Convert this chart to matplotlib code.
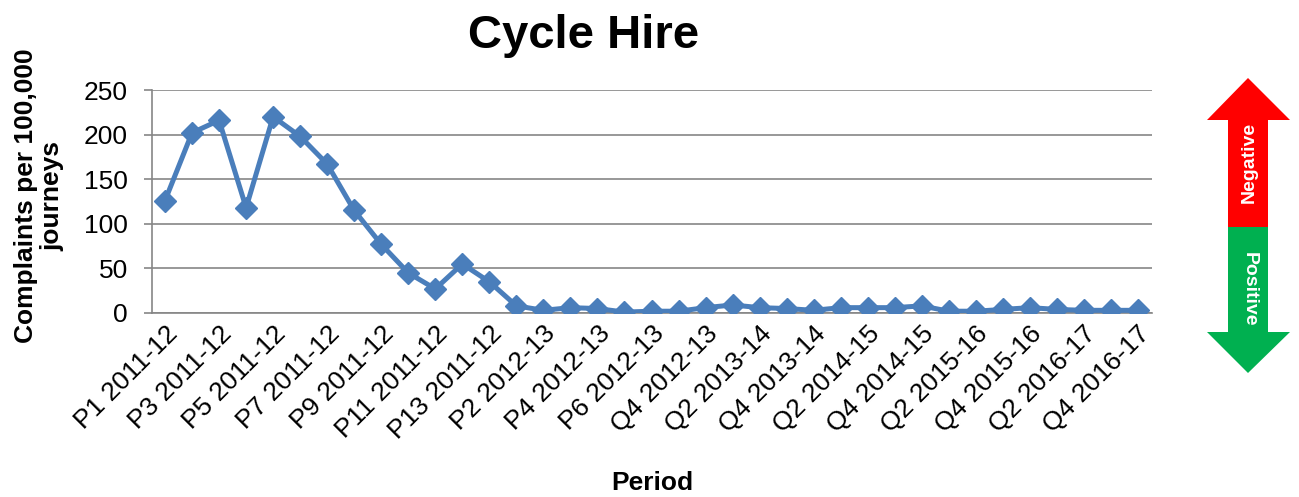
import matplotlib
matplotlib.use("Agg")
import matplotlib.pyplot as plt
from matplotlib.patches import Polygon

plt.rcParams['font.family'] = ['Liberation Sans', 'DejaVu Sans']

# Reporting periods (4-weekly periods, then quarters)
periods = [
    "P1 2011-12", "P2 2011-12", "P3 2011-12", "P4 2011-12", "P5 2011-12",
    "P6 2011-12", "P7 2011-12", "P8 2011-12", "P9 2011-12", "P10 2011-12",
    "P11 2011-12", "P12 2011-12", "P13 2011-12",
    "P1 2012-13", "P2 2012-13", "P3 2012-13", "P4 2012-13", "P5 2012-13",
    "P6 2012-13", "Q3 2012-13", "Q4 2012-13",
    "Q1 2013-14", "Q2 2013-14", "Q3 2013-14", "Q4 2013-14",
    "Q1 2014-15", "Q2 2014-15", "Q3 2014-15", "Q4 2014-15",
    "Q1 2015-16", "Q2 2015-16", "Q3 2015-16", "Q4 2015-16",
    "Q1 2016-17", "Q2 2016-17", "Q3 2016-17", "Q4 2016-17",
]

# Complaints per 100,000 journeys
complaints = [
    126, 202, 216, 118, 220, 198, 167, 115, 77, 45, 27, 55, 35,
    8, 3, 6, 5, 1, 2, 2, 6,
    9, 6, 5, 3,
    6, 6, 6, 8,
    2, 2, 4, 6,
    4, 3, 3, 3,
]

y_ticks = [0, 50, 100, 150, 200, 250]

W, H = 1299, 497
fig = plt.figure(figsize=(W / 100, H / 100), dpi=100)
ax = fig.add_axes([151.5 / W, 1 - 313 / H, 1000 / W, 223 / H])

x = list(range(len(periods)))
ax.plot(x, complaints, color='#4A7EBB', lw=3.6, marker='D', markersize=11,
        markerfacecolor='#4A7EBB', markeredgecolor='#4A7EBB', zorder=3,
        solid_joinstyle='round')

ax.set_xlim(-0.5, len(periods) - 0.5)
ax.set_ylim(0, 250)
ax.set_yticks(y_ticks)
ax.set_yticklabels([str(v) for v in y_ticks], fontsize=19)
ax.tick_params(axis='y', length=6, width=1.2, color='#868686', pad=11)

ax.set_xticks(x[::2])
ax.set_xticklabels(periods[::2], rotation=45, ha='right', va='top',
                   rotation_mode='anchor', fontsize=19)
ax.tick_params(axis='x', length=0, pad=6)

ax.grid(axis='y', color='#868686', lw=1.2)
ax.set_axisbelow(True)
for side in ('top', 'right'):
    ax.spines[side].set_visible(False)
for side in ('left', 'bottom'):
    ax.spines[side].set_color('#868686')
    ax.spines[side].set_linewidth(1.2)

fig.text(584 / W, 1 - 48 / H, "Cycle Hire", fontsize=34, fontweight='bold',
         ha='center', va='baseline')
fig.text(652 / W, 1 - 483 / H, "Period", fontsize=19, fontweight='bold',
         ha='center', va='center')
fig.text(39 / W, 1 - 196 / H, "Complaints per 100,000\njourneys", fontsize=19,
         fontweight='bold', rotation=90, ha='center', va='center',
         multialignment='center', linespacing=1.12)

# Negative / Positive indicator arrow, drawn in pixel space
ov = fig.add_axes([0, 0, 1, 1])
ov.set_xlim(0, W)
ov.set_ylim(H, 0)
ov.axis('off')
red_part = [(1248, 78), (1290, 120), (1268, 120), (1268, 227),
            (1228, 227), (1228, 120), (1207, 120)]
green_part = [(1228, 227), (1268, 227), (1268, 332), (1290, 332),
              (1248, 373), (1207, 332), (1228, 332)]
ov.add_patch(Polygon(red_part, closed=True, facecolor='#FF0000', edgecolor='none'))
ov.add_patch(Polygon(green_part, closed=True, facecolor='#00B050', edgecolor='none'))
ov.text(1249, 162, "Negative", color='white', fontsize=14, fontweight='bold',
        rotation=90, ha='center', va='center')
ov.text(1249, 289, "Positive", color='white', fontsize=14, fontweight='bold',
        rotation=-90, ha='center', va='center')

fig.savefig("out.png", dpi=100)
